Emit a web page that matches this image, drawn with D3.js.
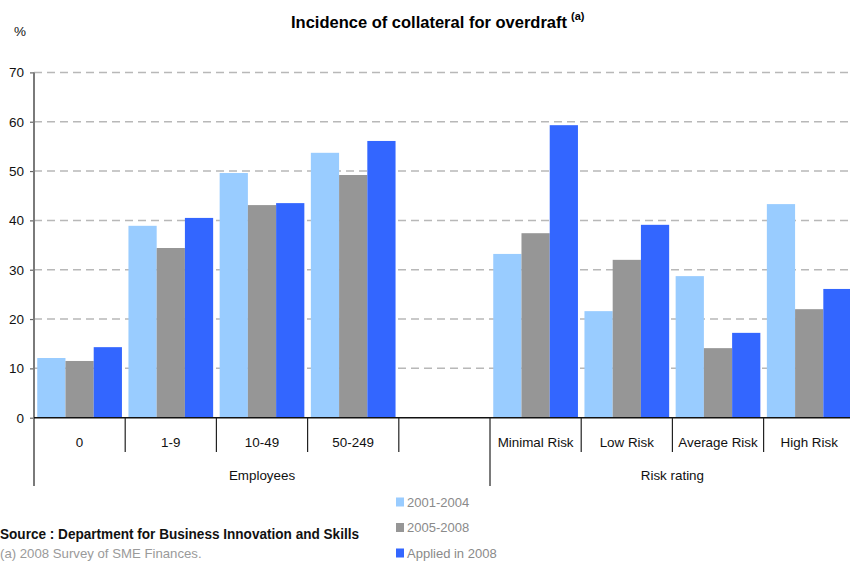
<!DOCTYPE html>
<html>
<head>
<meta charset="utf-8">
<script src="https://cdn.jsdelivr.net/npm/d3@7"></script>
<style>
  html, body { margin: 0; padding: 0; background: #fff; }
  svg { display: block; font-family: "Liberation Sans", Arial, sans-serif; }
</style>
</head>
<body>
<svg id="chart" width="850" height="564"></svg>
<script>
// Categories along the x axis (the empty slot separates the two groups)
const categories = ["0", "1-9", "10-49", "50-249", "", "Minimal Risk", "Low Risk", "Average Risk", "High Risk"];
const seriesNames = ["2001-2004", "2005-2008", "Applied in 2008"];
const s2001_2004 = [12.1, 38.9, 49.6, 53.7, null, 33.2, 21.6, 28.7, 43.3];
const s2005_2008 = [11.5, 34.4, 43.1, 49.2, null, 37.4, 32.0, 14.1, 22.0];
const sApplied2008 = [14.3, 40.5, 43.5, 56.1, null, 59.3, 39.1, 17.2, 26.1];
const groupLabels = ["Employees", "Risk rating"];
const groupFirst = [0, 5];   // first category index of each group
const groupLast = [4, 8];    // last category index of each group
const yTicks = [0, 10, 20, 30, 40, 50, 60, 70];
const colors = ["#99CCFF", "#969696", "#3366FF"];

const seriesValues = [s2001_2004, s2005_2008, sApplied2008];

const svg = d3.select("#chart");

const y = d3.scaleLinear().domain([0, 70]).range([417.7, 72.4]);
const x0 = d3.scaleBand()
  .domain(d3.range(categories.length))
  .range([34, 854.8])
  .paddingInner(0.0713)
  .paddingOuter(0.0356);
const x1 = d3.scaleBand().domain(d3.range(seriesNames.length)).range([0, x0.bandwidth()]);
const step = x0.step();
const edge = i => x0.range()[0] + i * step;

// Dashed gridlines
svg.append("g")
  .selectAll("line")
  .data(yTicks.filter(t => t > 0))
  .join("line")
  .attr("x1", 34).attr("x2", 850)
  .attr("y1", d => y(d)).attr("y2", d => y(d))
  .attr("stroke", "#b8b8b8")
  .attr("stroke-width", 1.5)
  .attr("stroke-dasharray", "8,5");

// Bars
const barData = [];
categories.forEach((c, i) => {
  seriesValues.forEach((vals, s) => {
    if (vals[i] != null) barData.push({ i, s, v: vals[i] });
  });
});
svg.append("g")
  .selectAll("rect")
  .data(barData)
  .join("rect")
  .attr("x", d => x0(d.i) + x1(d.s))
  .attr("width", x1.bandwidth())
  .attr("y", d => y(d.v))
  .attr("height", d => y(0) - y(d.v))
  .attr("fill", d => colors[d.s]);

// Y axis
const yAxis = d3.axisLeft(y).tickValues(yTicks).tickSize(4).tickPadding(6).tickFormat(d3.format("d"));
const gy = svg.append("g").attr("transform", "translate(34,0)").call(yAxis);
gy.select(".domain").remove();
gy.selectAll(".tick line").attr("stroke", "#666").attr("stroke-width", 1.2);
gy.selectAll(".tick text")
  .attr("font-size", 13.5)
  .attr("fill", "#111")
  .attr("font-family", "Liberation Sans, Arial, sans-serif");
svg.append("line")
  .attr("x1", 34).attr("x2", 34)
  .attr("y1", y(70)).attr("y2", 486)
  .attr("stroke", "#7a7a7a").attr("stroke-width", 2);

// Zero baseline
svg.append("line")
  .attr("x1", 34).attr("x2", 850)
  .attr("y1", y(0)).attr("y2", y(0))
  .attr("stroke", "#111").attr("stroke-width", 1.5);

// Category separators
const groupEdges = new Set();
groupFirst.forEach(f => groupEdges.add(f));
groupLast.forEach(l => groupEdges.add(l + 1));
svg.append("g")
  .selectAll("line")
  .data(d3.range(1, categories.length + 1))
  .join("line")
  .attr("x1", d => edge(d)).attr("x2", d => edge(d))
  .attr("y1", y(0))
  .attr("y2", d => groupEdges.has(d) ? 486 : 452)
  .attr("stroke", "#222").attr("stroke-width", 1.2);

// Category labels
svg.append("g")
  .selectAll("text")
  .data(categories)
  .join("text")
  .attr("x", (d, i) => x0(i) + x0.bandwidth() / 2)
  .attr("y", 447)
  .attr("text-anchor", "middle")
  .attr("font-size", 13.4)
  .attr("fill", "#111")
  .text(d => d);

// Group labels
svg.append("g")
  .selectAll("text")
  .data(groupLabels)
  .join("text")
  .attr("x", (d, g) => (edge(groupFirst[g]) + edge(groupLast[g] + 1)) / 2)
  .attr("y", 480)
  .attr("text-anchor", "middle")
  .attr("font-size", 13.4)
  .attr("fill", "#111")
  .text(d => d);

// Title
const title = svg.append("text")
  .attr("x", 291)
  .attr("y", 28)
  .attr("font-size", 16.5)
  .attr("font-weight", "bold")
  .attr("fill", "#000");
title.append("tspan").text("Incidence of collateral for overdraft");
title.append("tspan").attr("dx", 4).attr("dy", -8).attr("font-size", 11).text("(a)");

// Unit label
svg.append("text")
  .attr("x", 14).attr("y", 36)
  .attr("font-size", 13.5)
  .attr("fill", "#111")
  .text("%");

// Legend
const legend = svg.append("g")
  .selectAll("g")
  .data(seriesNames)
  .join("g")
  .attr("transform", (d, i) => `translate(396,${502 + i * 25.5})`);
legend.append("rect")
  .attr("x", 0).attr("y", -4.5)
  .attr("width", 8).attr("height", 9)
  .attr("fill", (d, i) => colors[i]);
legend.append("text")
  .attr("x", 11).attr("y", 4.5)
  .attr("font-size", 13)
  .attr("fill", "#8a8a8a")
  .text(d => d);

// Source and footnote
svg.append("text")
  .attr("x", 0).attr("y", 539)
  .attr("font-size", 14)
  .attr("font-weight", "bold")
  .attr("fill", "#111")
  .attr("textLength", 359)
  .attr("lengthAdjust", "spacingAndGlyphs")
  .text("Source : Department for Business Innovation and Skills");
svg.append("text")
  .attr("x", 0).attr("y", 558)
  .attr("font-size", 13.2)
  .attr("fill", "#9a9a9a")
  .text("(a) 2008 Survey of SME Finances.");
</script>
</body>
</html>
